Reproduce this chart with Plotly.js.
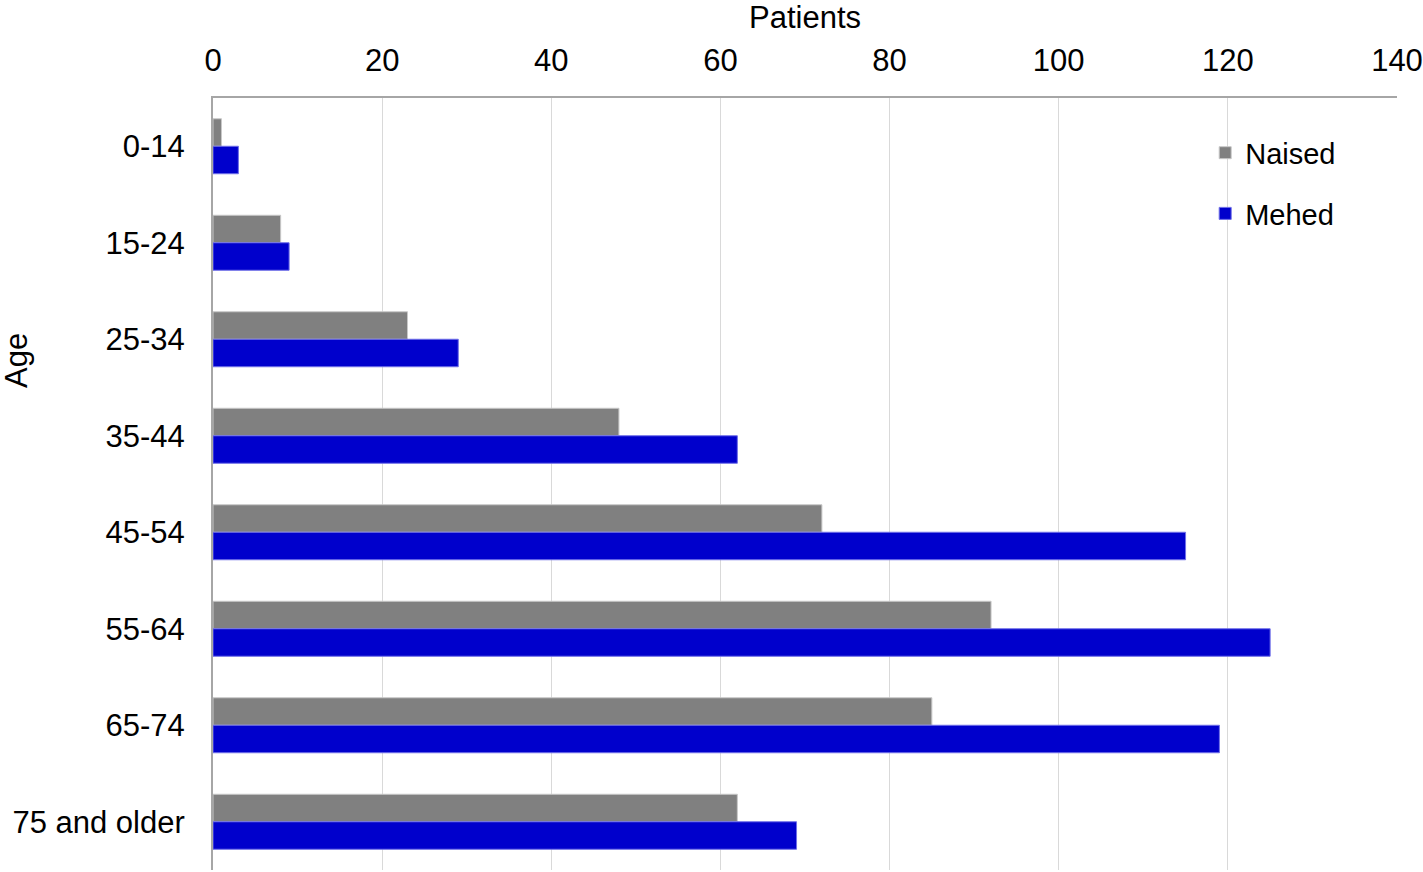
<!DOCTYPE html>
<html>
<head>
<meta charset="utf-8">
<script src="https://cdn.plot.ly/plotly-3.0.1.min.js"></script>
<style>html,body{margin:0;padding:0;background:#fff;}#chart{width:1423px;height:872px;}</style>
</head>
<body>
<div id="chart"></div>
<script>
const categories = ["0-14", "15-24", "25-34", "35-44", "45-54", "55-64", "65-74", "75 and older"];
const naised = [1, 8, 23, 48, 72, 92, 85, 62];
const mehed = [3, 9, 29, 62, 115, 125, 119, 69];
const xTicks = [0, 20, 40, 60, 80, 100, 120, 140];

const font = "Liberation Sans, Arial, sans-serif";
const traces = [
  {type: "bar", orientation: "h", name: "Naised", y: categories, x: naised,
   marker: {color: "#808080", line: {color: "#c8c8c8", width: 1}}, legendgroup: "a"},
  {type: "bar", orientation: "h", name: "Mehed", y: categories, x: mehed,
   marker: {color: "#0000cc", line: {color: "#6f6fe8", width: 1}}, legendgroup: "b"}
];
const layout = {
  width: 1423, height: 872,
  margin: {l: 213, r: 26, t: 98, b: 2},
  paper_bgcolor: "#fff", plot_bgcolor: "#fff",
  font: {family: font, size: 31, color: "#000"},
  barmode: "group", bargap: 0.43, bargroupgap: 0,
  showlegend: true,
  legend: {x: 0.838, xanchor: "left", y: 0.962, yanchor: "top", traceorder: "grouped",
           tracegroupgap: 20, font: {size: 29, family: font}, bgcolor: "rgba(0,0,0,0)",
           itemwidth: 30},
  xaxis: {side: "top", range: [0, 140], tickvals: xTicks, ticktext: xTicks.map(String),
          showgrid: true, gridcolor: "#d9d9d9", gridwidth: 1,
          showline: true, linecolor: "#a6a6a6", linewidth: 2, ticks: "", zeroline: false,
          tickfont: {size: 31}, ticklabelstandoff: 13,
          title: {text: "Patients", font: {size: 31}, standoff: 6}},
  yaxis: {autorange: "reversed", showline: true, linecolor: "#a6a6a6", linewidth: 2,
          ticks: "", showgrid: false, tickfont: {size: 31}, ticklabelstandoff: 20},
  annotations: [{text: "Age", xref: "paper", yref: "paper", x: -0.166, y: 0.66,
                 textangle: -90, showarrow: false, font: {size: 31}, xanchor: "center", yanchor: "middle"}]
};
Plotly.newPlot("chart", traces, layout, {displayModeBar: false, staticPlot: true});
</script>
</body>
</html>
